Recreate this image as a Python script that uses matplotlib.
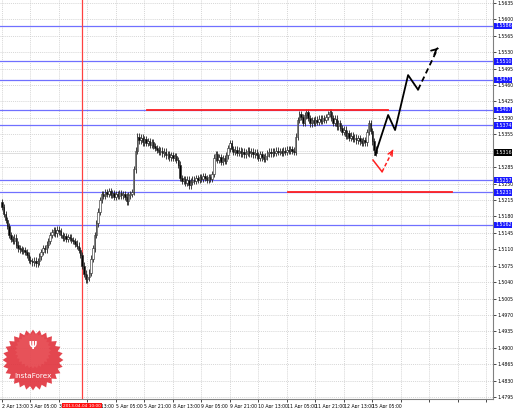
import numpy as np
import matplotlib.pyplot as plt
import matplotlib as mpl

mpl.rcParams.update({
    "font.family": "DejaVu Sans",
})

# -------------------------
# Data (GBPUSD H1)
# -------------------------

closes = [
    1.5200, 1.5185, 1.5172, 1.5160, 1.5140, 1.5132, 1.5128, 1.5135, 1.5120, 1.5112,
    1.5110, 1.5106, 1.5108, 1.5104, 1.5098, 1.5088, 1.5085, 1.5082, 1.5086, 1.5080,
    1.5084, 1.5095, 1.5104, 1.5112, 1.5110, 1.5120, 1.5128, 1.5140, 1.5146, 1.5150,
    1.5144, 1.5152, 1.5148, 1.5140, 1.5134, 1.5138, 1.5132, 1.5136, 1.5135, 1.5130,
    1.5128, 1.5122, 1.5118, 1.5108, 1.5098, 1.5075, 1.5058, 1.5046, 1.5050, 1.5060,
    1.5090, 1.5112, 1.5140, 1.5165, 1.5190, 1.5215, 1.5228, 1.5224, 1.5232, 1.5228,
    1.5234, 1.5226, 1.5230, 1.5222, 1.5228, 1.5224, 1.5230, 1.5225, 1.5228, 1.5222,
    1.5212, 1.5225, 1.5228, 1.5232, 1.5280, 1.5320, 1.5350, 1.5342, 1.5348, 1.5338,
    1.5345, 1.5336, 1.5340, 1.5332, 1.5338, 1.5330, 1.5326, 1.5322, 1.5318, 1.5320,
    1.5314, 1.5318, 1.5310, 1.5312, 1.5306, 1.5310, 1.5304, 1.5308, 1.5300, 1.5290,
    1.5262, 1.5256, 1.5260, 1.5252, 1.5258, 1.5246, 1.5254, 1.5258, 1.5255, 1.5262,
    1.5258, 1.5264, 1.5260, 1.5266, 1.5262, 1.5258, 1.5264, 1.5260, 1.5270, 1.5305,
    1.5312, 1.5300, 1.5306, 1.5296, 1.5304, 1.5298, 1.5310, 1.5325, 1.5336, 1.5324,
    1.5318, 1.5322, 1.5316, 1.5320, 1.5314, 1.5318, 1.5312, 1.5316, 1.5320, 1.5314,
    1.5318, 1.5312, 1.5316, 1.5310, 1.5305, 1.5312, 1.5306, 1.5302, 1.5308, 1.5314,
    1.5318, 1.5314, 1.5318, 1.5316, 1.5320, 1.5317, 1.5319, 1.5316, 1.5320, 1.5318,
    1.5322, 1.5319, 1.5323, 1.5320, 1.5318, 1.5350, 1.5385, 1.5398, 1.5392, 1.5380,
    1.5395, 1.5402, 1.5390, 1.5378, 1.5385, 1.5380, 1.5386, 1.5382, 1.5388, 1.5384,
    1.5390, 1.5386, 1.5392, 1.5398, 1.5402, 1.5390, 1.5380, 1.5388, 1.5372, 1.5378,
    1.5368, 1.5360, 1.5365, 1.5352, 1.5358, 1.5348, 1.5352, 1.5345, 1.5348, 1.5342,
    1.5346, 1.5340, 1.5336, 1.5342, 1.5338, 1.5360, 1.5378, 1.5362, 1.5340, 1.5322,
    1.5316,
]
first_open = 1.5210

time_labels = [
    "2 Apr 13:00", "3 Apr 05:00", "3 Apr 21:00", "4 Apr 13:00", "5 Apr 05:00",
    "5 Apr 21:00", "8 Apr 13:00", "9 Apr 05:00", "9 Apr 21:00", "10 Apr 13:00",
    "11 Apr 05:00", "11 Apr 21:00", "12 Apr 13:00", "15 Apr 05:00",
]

price_ticks = [1.5635 - 0.0035 * k for k in range(25)]

blue_levels = [1.5586, 1.5510, 1.5471, 1.5407, 1.5374, 1.5257, 1.5231, 1.5162]
current_price = 1.5316

# red resistance / support segments: (start index, end index, price)
red_segments = [(81.5, 216.9, 1.5407), (160.7, 252.8, 1.5231)]

event_index = 45
event_label = "2013.04.04 10:00"

# forecast paths (candle index, price)
black_path_idx = [209.6, 216.9, 220.8, 228.1, 233.7]
black_path_px = [1.5311, 1.5396, 1.5364, 1.5481, 1.5450]
black_dash_idx = [233.7, 244.9]
black_dash_px = [1.5450, 1.5539]

red_path_idx = [208.4, 213.5]
red_path_px = [1.5300, 1.5275]
red_dash_idx = [213.5, 219.7]
red_dash_px = [1.5275, 1.5322]

# -------------------------
# Figure
# -------------------------

fig = plt.figure(figsize=(5.18, 4.08), dpi=100)
ax = fig.add_axes([0, 9 / 408, 493 / 518, 399 / 408])

n = len(closes)
idx = np.arange(n)
opens = np.array([first_open] + closes[:-1])
cl = np.array(closes)
top = np.maximum(opens, cl)
bot = np.minimum(opens, cl)
wick = 0.0007

ax.vlines(idx, bot - wick, top + wick, color="#202020", lw=0.6, zorder=3)
body_h = np.maximum(top - bot, 0.0001)
face = ["white" if c >= o else "black" for o, c in zip(opens, cl)]
ax.bar(idx, body_h, 0.8, bottom=bot, color=face, edgecolor="#202020",
       linewidth=0.4, zorder=4)

# grid
xt = np.arange(0, 280, 16)
for xv in xt:
    ax.axvline(xv, color="#c8c8c8", lw=0.5, ls=(0, (1.5, 1.5)), zorder=0)
for yv in price_ticks:
    ax.axhline(yv, color="#c8c8c8", lw=0.5, ls=(0, (1.5, 1.5)), zorder=0)

# levels
for lv in blue_levels:
    ax.axhline(lv, color="#7070ff", lw=0.9, zorder=2)
    ax.text(1.004, lv, f"{lv:.4f}", transform=ax.get_yaxis_transform(),
            fontsize=3.4, color="white", va="center", ha="left", clip_on=False,
            bbox=dict(boxstyle="square,pad=0.15", fc="#1a1aff", ec="none"))
ax.axhline(current_price, color="#d0d0d0", lw=0.5, zorder=1)
ax.text(1.004, current_price, f"{current_price:.4f}",
        transform=ax.get_yaxis_transform(), fontsize=3.4, color="white",
        va="center", ha="left", clip_on=False,
        bbox=dict(boxstyle="square,pad=0.15", fc="black", ec="none"))

for x0, x1, lv in red_segments:
    ax.plot([x0, x1], [lv, lv], color="#ff2020", lw=1.3, zorder=5)

ax.axvline(event_index, color="#ff4040", lw=0.9, zorder=2)
ax.text(event_index, -0.012, event_label, transform=ax.get_xaxis_transform(),
        fontsize=3.1, color="white", ha="center", va="top", clip_on=False,
        bbox=dict(boxstyle="square,pad=0.2", fc="#ff1010", ec="none"), zorder=10)

# forecast
ax.plot(black_path_idx, black_path_px, color="black", lw=1.3, zorder=6)
ax.plot(black_dash_idx, black_dash_px, color="black", lw=1.3, ls=(0, (3, 2)),
        zorder=6)
ax.annotate("", xy=(black_dash_idx[1], black_dash_px[1]),
            xytext=(black_dash_idx[1] - 1.5, black_dash_px[1] - 0.0005),
            arrowprops=dict(arrowstyle="->", color="black", lw=1.3,
                            mutation_scale=9))
ax.plot(red_path_idx, red_path_px, color="#ff2020", lw=1.1, zorder=6)
ax.plot(red_dash_idx, red_dash_px, color="#ff2020", lw=1.1, ls=(0, (2.5, 1.5)),
        zorder=6)
ax.annotate("", xy=(red_dash_idx[1], red_dash_px[1]),
            xytext=(red_dash_idx[1] - 1.2, red_dash_px[1] - 0.0008),
            arrowprops=dict(arrowstyle="->", color="#ff2020", lw=1.1,
                            mutation_scale=8))

# axes
ax.set_xlim(-1.12, 275.8)
ax.set_ylim(1.4791, 1.5641)
ax.yaxis.tick_right()
ax.set_yticks(price_ticks)
# the tick label under the current-price box is hidden, as on the terminal
ax.set_yticklabels(["" if abs(p - current_price) < 0.0008 else f"{p:.4f}"
                    for p in price_ticks])
ax.set_xticks(xt)
ax.set_xticklabels(time_labels + [""] * (len(xt) - len(time_labels)),
                   ha="left")
ax.tick_params(axis="both", labelsize=3.3, length=2, width=0.5, pad=1,
               colors="black")
ax.tick_params(axis="x", pad=1.5)
for s in ["left", "top"]:
    ax.spines[s].set_visible(False)
for s in ["right", "bottom"]:
    ax.spines[s].set_linewidth(0.8)
    ax.spines[s].set_color("#808080")

# logo
lax = fig.add_axes([1 / 518, 16 / 408, 64 / 518, 64 / 408])
lax.set_xlim(-1, 1)
lax.set_ylim(-1, 1)
lax.axis("off")
k = 56
ang = np.linspace(0, 2 * np.pi, k, endpoint=False) + np.pi / 2
rad = np.where(np.arange(k) % 2 == 0, 0.95, 0.82)
lax.fill(rad * np.cos(ang), rad * np.sin(ang), color="#e0323c", alpha=0.9, lw=0)
lax.fill(0.6 * rad * np.cos(ang), 0.6 * rad * np.sin(ang) + 0.3,
         color="#ef6a6e", alpha=0.35, lw=0)
lax.text(0, -0.5, "InstaForex", color="white", fontsize=5.2, ha="center",
         va="center")
lax.text(0, 0.45, "Ψ", color="white", fontsize=7, ha="center", va="center",
         fontweight="bold")

fig.savefig("out.png", dpi=100)
